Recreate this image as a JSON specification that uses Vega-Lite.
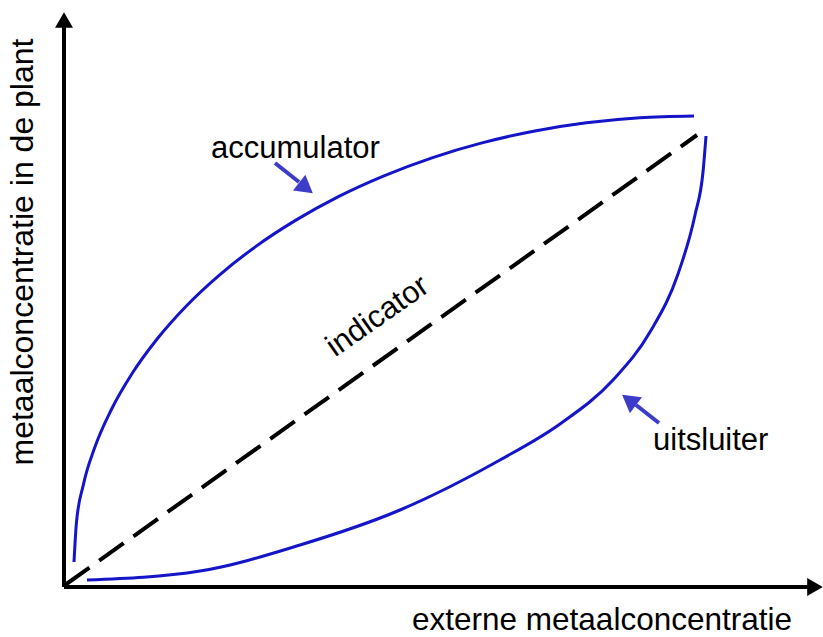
{
  "$schema": "https://vega.github.io/schema/vega-lite/v6.json",
  "width": 759,
  "height": 575,
  "autosize": {"type": "none"},
  "padding": {"left": 64, "top": 12, "right": 0, "bottom": 50},
  "background": "white",
  "config": {"view": {"stroke": null}, "font": "Liberation Sans"},
  "datasets": {
    "curves": [
      {"curve": "accumulator", "i": 0, "x": 10, "y": 25},
      {"curve": "accumulator", "i": 1, "x": 12.4, "y": 63.9},
      {"curve": "accumulator", "i": 2, "x": 19.4, "y": 102.4},
      {"curve": "accumulator", "i": 3, "x": 31.1, "y": 140.4},
      {"curve": "accumulator", "i": 4, "x": 47.4, "y": 177.5},
      {"curve": "accumulator", "i": 5, "x": 68.1, "y": 213.5},
      {"curve": "accumulator", "i": 6, "x": 93.1, "y": 248},
      {"curve": "accumulator", "i": 7, "x": 122.1, "y": 280.8},
      {"curve": "accumulator", "i": 8, "x": 155.1, "y": 311.7},
      {"curve": "accumulator", "i": 9, "x": 191.6, "y": 340.4},
      {"curve": "accumulator", "i": 10, "x": 231.5, "y": 366.6},
      {"curve": "accumulator", "i": 11, "x": 274.4, "y": 390.4},
      {"curve": "accumulator", "i": 12, "x": 320, "y": 411.2},
      {"curve": "accumulator", "i": 13, "x": 368, "y": 429.2},
      {"curve": "accumulator", "i": 14, "x": 418, "y": 444.1},
      {"curve": "accumulator", "i": 15, "x": 469.5, "y": 455.8},
      {"curve": "accumulator", "i": 16, "x": 522.4, "y": 464.2},
      {"curve": "accumulator", "i": 17, "x": 575.9, "y": 469.3},
      {"curve": "accumulator", "i": 18, "x": 630, "y": 471},
      {"curve": "uitsluiter", "i": 0, "x": 23, "y": 7},
      {"curve": "uitsluiter", "i": 1, "x": 136, "y": 16},
      {"curve": "uitsluiter", "i": 2, "x": 236, "y": 42},
      {"curve": "uitsluiter", "i": 3, "x": 336, "y": 77},
      {"curve": "uitsluiter", "i": 4, "x": 436, "y": 127},
      {"curve": "uitsluiter", "i": 5, "x": 496, "y": 163},
      {"curve": "uitsluiter", "i": 6, "x": 549, "y": 207},
      {"curve": "uitsluiter", "i": 7, "x": 586, "y": 255},
      {"curve": "uitsluiter", "i": 8, "x": 614, "y": 313},
      {"curve": "uitsluiter", "i": 9, "x": 631, "y": 372},
      {"curve": "uitsluiter", "i": 10, "x": 639, "y": 415},
      {"curve": "uitsluiter", "i": 11, "x": 642, "y": 451}
    ],
    "indicator": [
      {"i": 0, "x": 1, "y": 2},
      {"i": 1, "x": 633, "y": 452}
    ],
    "axes": [
      {"axis": "x", "x": 0, "y": 0, "x2": 751, "y2": 0},
      {"axis": "y", "x": 0, "y": 0, "x2": 0, "y2": 567}
    ],
    "axisHeads": [
      {"axis": "x", "x": 751, "y": 0},
      {"axis": "y", "x": 0, "y": 567}
    ],
    "pointers": [
      {"label": "accumulator", "x": 211, "y": 424, "x2": 235, "y2": 405},
      {"label": "uitsluiter", "x": 595, "y": 164, "x2": 572, "y2": 182}
    ],
    "pointerHeads": [
      {"label": "accumulator", "x": 242, "y": 399},
      {"label": "uitsluiter", "x": 565, "y": 187}
    ],
    "labels": [
      {"label": "accumulator", "x": 147, "y": 429},
      {"label": "uitsluiter", "x": 589, "y": 137}
    ],
    "diagLabel": [
      {"label": "indicator", "x": 319, "y": 263}
    ],
    "xTitle": [
      {"label": "externe metaalconcentratie", "x": 538, "y": -43}
    ],
    "yTitle": [
      {"label": "metaalconcentratie in de plant", "x": -31, "y": 335}
    ]
  },
  "layer": [
    {
      "data": {"name": "curves"},
      "mark": {"type": "line", "interpolate": "monotone", "strokeWidth": 3, "color": "#1414c8", "strokeCap": "butt"},
      "encoding": {
        "x": {"field": "x", "type": "quantitative", "scale": {"domain": [0, 759], "nice": false, "zero": false}, "axis": null},
        "y": {"field": "y", "type": "quantitative", "scale": {"domain": [0, 575], "nice": false, "zero": false}, "axis": null},
        "detail": {"field": "curve"},
        "order": {"field": "i", "type": "quantitative"}
      }
    },
    {
      "data": {"name": "indicator"},
      "mark": {"type": "line", "strokeWidth": 4, "color": "black", "strokeDash": [30, 12], "strokeCap": "butt"},
      "encoding": {
        "x": {"field": "x", "type": "quantitative"},
        "y": {"field": "y", "type": "quantitative"},
        "order": {"field": "i", "type": "quantitative"}
      }
    },
    {
      "data": {"name": "axes"},
      "mark": {"type": "rule", "strokeWidth": 4, "color": "black"},
      "encoding": {
        "x": {"field": "x", "type": "quantitative"},
        "y": {"field": "y", "type": "quantitative"},
        "x2": {"field": "x2"},
        "y2": {"field": "y2"}
      }
    },
    {
      "data": {"name": "axisHeads"},
      "transform": [{"filter": "datum.axis === 'x'"}],
      "mark": {"type": "point", "shape": "triangle-right", "size": 324, "filled": true, "opacity": 1, "color": "black", "strokeWidth": 0},
      "encoding": {
        "x": {"field": "x", "type": "quantitative"},
        "y": {"field": "y", "type": "quantitative"}
      }
    },
    {
      "data": {"name": "axisHeads"},
      "transform": [{"filter": "datum.axis === 'y'"}],
      "mark": {"type": "point", "shape": "triangle-up", "size": 324, "filled": true, "opacity": 1, "color": "black", "strokeWidth": 0},
      "encoding": {
        "x": {"field": "x", "type": "quantitative"},
        "y": {"field": "y", "type": "quantitative"}
      }
    },
    {
      "data": {"name": "pointers"},
      "mark": {"type": "rule", "strokeWidth": 4, "color": "#3c3cc8"},
      "encoding": {
        "x": {"field": "x", "type": "quantitative"},
        "y": {"field": "y", "type": "quantitative"},
        "x2": {"field": "x2"},
        "y2": {"field": "y2"}
      }
    },
    {
      "data": {"name": "pointerHeads"},
      "transform": [{"filter": "datum.label === 'accumulator'"}],
      "mark": {"type": "point", "shape": "triangle-up", "angle": 128, "size": 400, "filled": true, "opacity": 1, "color": "#3c3cc8", "strokeWidth": 0},
      "encoding": {
        "x": {"field": "x", "type": "quantitative"},
        "y": {"field": "y", "type": "quantitative"}
      }
    },
    {
      "data": {"name": "pointerHeads"},
      "transform": [{"filter": "datum.label === 'uitsluiter'"}],
      "mark": {"type": "point", "shape": "triangle-up", "angle": 307, "size": 400, "filled": true, "opacity": 1, "color": "#3c3cc8", "strokeWidth": 0},
      "encoding": {
        "x": {"field": "x", "type": "quantitative"},
        "y": {"field": "y", "type": "quantitative"}
      }
    },
    {
      "data": {"name": "labels"},
      "mark": {"type": "text", "align": "left", "baseline": "alphabetic", "fontSize": 31, "color": "black", "font": "Liberation Sans"},
      "encoding": {
        "x": {"field": "x", "type": "quantitative"},
        "y": {"field": "y", "type": "quantitative"},
        "text": {"field": "label"}
      }
    },
    {
      "data": {"name": "diagLabel"},
      "mark": {"type": "text", "align": "center", "baseline": "alphabetic", "angle": 325, "fontSize": 31, "color": "black", "font": "Liberation Sans"},
      "encoding": {
        "x": {"field": "x", "type": "quantitative"},
        "y": {"field": "y", "type": "quantitative"},
        "text": {"field": "label"}
      }
    },
    {
      "data": {"name": "xTitle"},
      "mark": {"type": "text", "align": "center", "baseline": "alphabetic", "fontSize": 31.5, "color": "black", "font": "Liberation Sans"},
      "encoding": {
        "x": {"field": "x", "type": "quantitative"},
        "y": {"field": "y", "type": "quantitative"},
        "text": {"field": "label"}
      }
    },
    {
      "data": {"name": "yTitle"},
      "mark": {"type": "text", "align": "center", "baseline": "alphabetic", "angle": 270, "fontSize": 32, "color": "black", "font": "Liberation Sans"},
      "encoding": {
        "x": {"field": "x", "type": "quantitative"},
        "y": {"field": "y", "type": "quantitative"},
        "text": {"field": "label"}
      }
    }
  ]
}
